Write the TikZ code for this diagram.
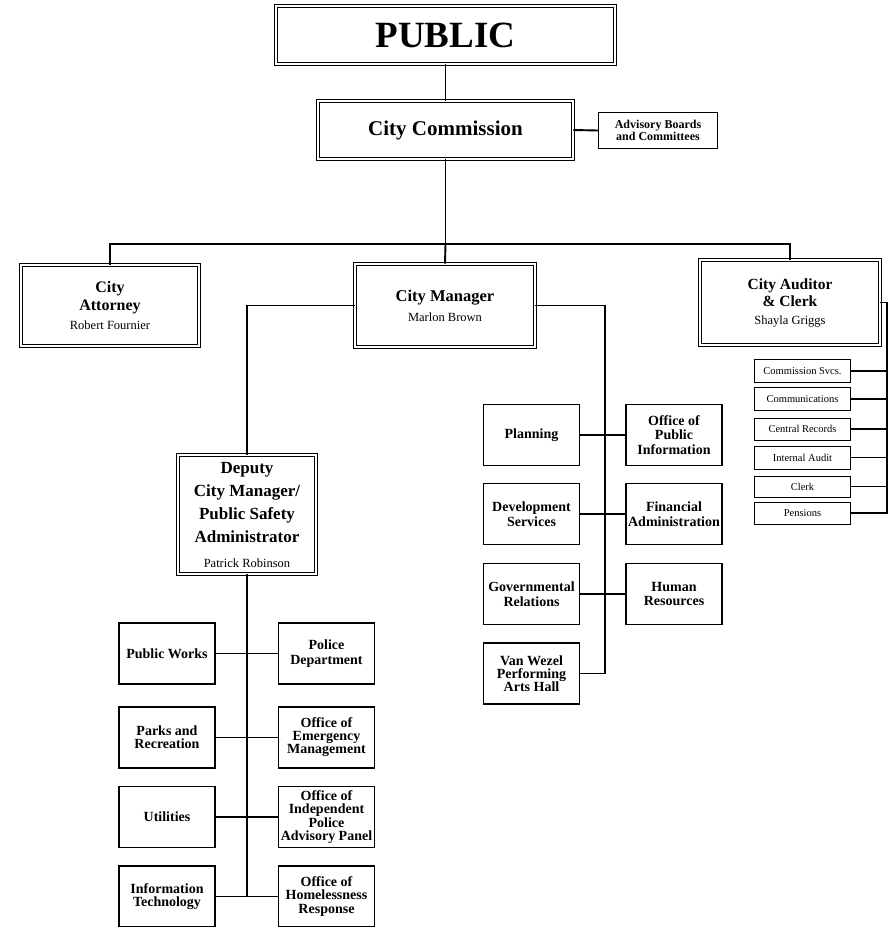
\documentclass[tikz,border=0pt]{standalone}
\usepackage{fontspec}
\setmainfont{Liberation Serif}
\newcommand{\staffname}[1]{{\normalfont\fontsize{12.5}{15}\selectfont #1}}

\begin{document}
\begin{tikzpicture}[
			x=1pt, y=-1pt,
			every node/.style={inner sep=0pt, align=center},
			dbox/.style={draw, double, double distance=2.2pt, line width=0.9pt, font=\bfseries},
			unitbox/.style={draw, line width=1.8pt, minimum width=96pt, minimum height=61pt,
				font=\fontsize{14}{14.5}\selectfont\bfseries},
			subbox/.style={draw, line width=1pt, minimum width=96pt, minimum height=23pt,
				font=\fontsize{10.5}{12}\selectfont},
			link/.style={line width=1.9pt}
			]
			\useasboundingbox (0,0) rectangle (892,927);
			
			% Top of the chart
			\node[dbox, minimum width=339pt, minimum height=58pt, font=\fontsize{37}{40}\selectfont\bfseries] (pub) at (445.5,35) {PUBLIC};
			\node[dbox, minimum width=255pt, minimum height=58pt, font=\fontsize{21}{24}\selectfont\bfseries] (comm) at (445.5,130) {City Commission};
			\node[draw, line width=1.1pt, minimum width=119pt, minimum height=36pt, font=\fontsize{12}{12.5}\selectfont\bfseries] (adv) at (658,130.5) {Advisory Boards\\and Committees};
			\draw[link] (pub.south) -- (comm.north);
			\draw[link] (comm.east) -- (adv.west);
			
			% Appointed officials
			\node[dbox, minimum width=178pt, minimum height=81pt, font=\fontsize{16}{18.5}\selectfont\bfseries] (att) at (110,305.5) {City\\Attorney\\\staffname{Robert Fournier}};
			\node[dbox, minimum width=180pt, minimum height=83pt, font=\fontsize{16.5}{20}\selectfont\bfseries] (cm) at (445,305.5) {City Manager\\\staffname{Marlon Brown}};
			\node[dbox, minimum width=180pt, minimum height=85pt, font=\fontsize{15.5}{17.5}\selectfont\bfseries] (aud) at (790,302.5) {City Auditor\\\& Clerk\\\staffname{Shayla Griggs}};
			\coordinate (bus) at (445.5,244);
			\draw[link] (comm.south) -- (bus);
			\draw[link] (att.north) |- (bus) -| (aud.north);
			\draw[link] (bus) -- (cm.north);
			
			% Auditor and clerk offices
			\node[subbox] (csv) at (802.5,371) {Commission Svcs.};
			\node[subbox] (cmu) at (802.5,399) {Communications};
			\node[subbox, minimum height=22pt] (crec) at (802.5,429) {Central Records};
			\node[subbox] (iaud) at (802.5,457.5) {Internal Audit};
			\node[subbox, minimum height=21pt] (clk) at (802.5,486.5) {Clerk};
			\node[subbox, minimum height=22pt] (pen) at (802.5,513) {Pensions};
			\coordinate (abus) at (887,513);
			\draw[line width=1.2pt] (aud.east) -| (abus) -- (pen.east);
			\foreach \n in {csv,cmu,crec,iaud,clk}
				\draw[line width=1.2pt] (\n.east) -- (\n.east -| abus);
			
			% Departments under the city manager
			\node[unitbox] (plan) at (531.5,435) {Planning};
			\node[unitbox] (opi) at (674,435) {Office of\\Public\\Information};
			\node[unitbox] (dev) at (531.5,514) {Development\\Services};
			\node[unitbox] (fin) at (674,514) {Financial\\Administration};
			\node[unitbox] (gov) at (531.5,594) {Governmental\\Relations};
			\node[unitbox] (hr) at (674,594) {Human\\Resources};
			\node[unitbox, font=\fontsize{14}{13}\selectfont\bfseries] (vw) at (531.5,673.5) {Van Wezel\\Performing\\Arts Hall};
			\coordinate (mbus) at (605,673.5);
			\draw[link] (cm.east) -| (mbus) -- (vw.east);
			\draw[link] (plan.east) -- (opi.west);
			\draw[link] (dev.east) -- (fin.west);
			\draw[link] (gov.east) -- (hr.west);
			
			% Deputy city manager
			\node[dbox, minimum width=138pt, minimum height=119pt, font=\fontsize{17}{23}\selectfont\bfseries] (dep) at (247,514.5) {Deputy\\City Manager/\\Public Safety\\Administrator\\[2pt]\staffname{Patrick Robinson}};
			\draw[link] (cm.west) -| (dep.north);
			
			% Departments under the deputy
			\node[unitbox] (pw) at (167,653.5) {Public Works};
			\node[unitbox] (pol) at (326.5,653.5) {Police\\Department};
			\node[unitbox, font=\fontsize{14}{13}\selectfont\bfseries] (park) at (167,737.5) {Parks and\\Recreation};
			\node[unitbox, font=\fontsize{14}{13}\selectfont\bfseries] (oem) at (326.5,737.5) {Office of\\Emergency\\Management};
			\node[unitbox] (util) at (167,817) {Utilities};
			\node[unitbox, font=\fontsize{14}{13.5}\selectfont\bfseries] (ipap) at (326.5,817) {Office of\\Independent\\Police\\Advisory Panel};
			\node[unitbox, font=\fontsize{14}{13}\selectfont\bfseries] (it) at (167,896.5) {Information\\Technology};
			\node[unitbox, font=\fontsize{14}{13.5}\selectfont\bfseries] (ohr) at (326.5,896.5) {Office of\\Homelessness\\Response};
			\coordinate (lbus) at (247,896.5);
			\draw[link] (dep.south) -- (lbus);
			\draw[link] (pw.east) -- (pol.west);
			\draw[link] (park.east) -- (oem.west);
			\draw[link] (util.east) -- (ipap.west);
			\draw[link] (it.east) -- (ohr.west);
		\end{tikzpicture}
\end{document}
